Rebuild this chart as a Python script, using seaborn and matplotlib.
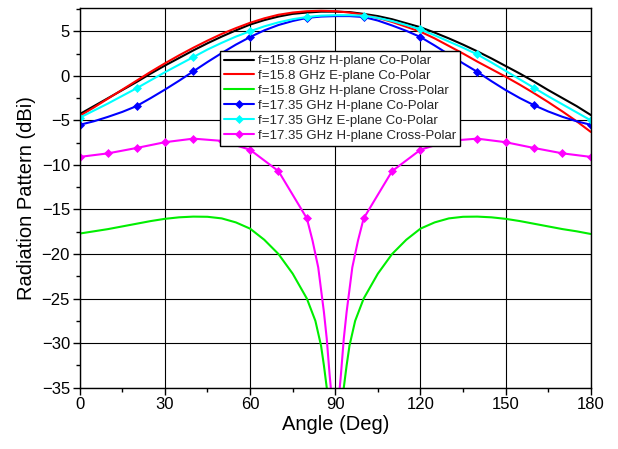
import numpy as np
import pandas as pd
import matplotlib
matplotlib.use("Agg")
import matplotlib.pyplot as plt
import seaborn as sns
from matplotlib.ticker import MultipleLocator

# ---------------- data ----------------
angles5 = list(range(0, 181, 5))

h158_co = [-4.3, -3.4, -2.5, -1.6, -0.7, 0.25, 1.15, 2.0, 2.85, 3.65, 4.4, 5.1, 5.75, 6.25,
           6.65, 6.95, 7.1, 7.2, 7.2, 7.15, 6.95, 6.7, 6.35, 5.9, 5.45, 4.85, 4.2, 3.5, 2.75,
           1.95, 1.1, 0.25, -0.65, -1.6, -2.5, -3.4, -4.4]
e158_co = [-4.5, -3.55, -2.55, -1.55, -0.55, 0.45, 1.4, 2.3, 3.15, 3.95, 4.7, 5.35, 5.95, 6.45,
           6.85, 7.1, 7.25, 7.3, 7.25, 7.1, 6.85, 6.5, 6.05, 5.5, 4.95, 4.2, 3.35, 2.5, 1.6,
           0.75, -0.1, -1.0, -1.95, -2.95, -4.0, -5.1, -6.3]
h1735_co = [-5.5, -5.1, -4.6, -4.05, -3.4, -2.5, -1.55, -0.55, 0.5, 1.55, 2.55, 3.5, 4.35, 5.1,
            5.7, 6.15, 6.5, 6.65, 6.7, 6.7, 6.6, 6.2, 5.65, 5.05, 4.35, 3.4, 2.4, 1.4, 0.45,
            -0.6, -1.6, -2.5, -3.3, -4.0, -4.6, -5.1, -5.5]
e1735_co = [-4.7, -3.9, -3.1, -2.25, -1.4, -0.5, 0.4, 1.25, 2.1, 2.95, 3.7, 4.4, 5.0, 5.55,
            6.0, 6.35, 6.6, 6.75, 6.8, 6.8, 6.75, 6.5, 6.15, 5.7, 5.2, 4.55, 3.85, 3.15, 2.4,
            1.5, 0.55, -0.4, -1.35, -2.3, -3.2, -4.1, -5.0]

angles_x158 = [0, 5, 10, 15, 20, 25, 30, 35, 40, 45, 50, 55, 60, 65, 70, 75, 80, 83, 85, 86,
               87, 88, 89, 90, 91, 92, 93, 94, 95, 97, 100, 105, 110, 115, 120, 125, 130, 135,
               140, 145, 150, 155, 160, 165, 170, 175, 180]
h158_x = [-17.7, -17.45, -17.2, -16.9, -16.6, -16.3, -16.05, -15.88, -15.8, -15.82, -16.0,
          -16.45, -17.15, -18.4, -20.0, -22.2, -25.0, -27.5, -30.3, -32.5, -35.0, -38.5, -45.0,
          -60.0, -45.0, -38.5, -35.0, -32.5, -30.3, -27.5, -25.0, -22.2, -20.0, -18.4, -17.15,
          -16.45, -16.0, -15.82, -15.8, -15.88, -16.05, -16.3, -16.6, -16.9, -17.2, -17.45,
          -17.75]

angles_x1735 = [0, 10, 20, 30, 40, 50, 60, 70, 80, 82, 84, 86, 87, 88, 89, 90, 91, 92, 93, 94,
                96, 98, 100, 110, 120, 130, 140, 150, 160, 170, 180]
h1735_x = [-9.1, -8.7, -8.1, -7.45, -7.05, -7.3, -8.3, -10.7, -16.0, -18.5, -21.5, -26.5,
           -29.5, -33.5, -37.0, -60.0, -37.0, -33.5, -29.5, -26.5, -21.5, -18.5, -16.0, -10.7,
           -8.3, -7.3, -7.05, -7.45, -8.1, -8.7, -9.1]

labels = ["f=15.8 GHz H-plane Co-Polar", "f=15.8 GHz E-plane Co-Polar",
          "f=15.8 GHz H-plane Cross-Polar", "f=17.35 GHz H-plane Co-Polar",
          "f=17.35 GHz E-plane Co-Polar", "f=17.35 GHz H-plane Cross-Polar"]
x_ticks = [0, 30, 60, 90, 120, 150, 180]
y_ticks = [-35, -30, -25, -20, -15, -10, -5, 0, 5]

# ---------------- plot ----------------
sns.set_theme(style="white")
plt.rcParams['font.family'] = ['Liberation Sans', 'DejaVu Sans']

fig = plt.figure(figsize=(6.18, 4.49), dpi=100)
ax = fig.add_axes([0.129, 0.1365, 0.827, 0.8455])

mag_marks = [i for i, a in enumerate(angles_x1735) if a % 10 == 0 and a != 90]

series = [
    (angles5, h158_co, "#000000", None, None),
    (angles5, e158_co, "#ff0000", None, None),
    (angles_x158, h158_x, "#00ee00", None, None),
    (angles5, h1735_co, "#0000ff", "D", 4),
    (angles5, e1735_co, "#00ffff", "D", 4),
    (angles_x1735, h1735_x, "#ff00ff", "D", mag_marks),
]
for (xs, ys, col, mk, me), lab in zip(series, labels):
    df = pd.DataFrame({"angle": xs, "val": ys})
    kw = dict(color=col, linewidth=1.5, label=lab, ax=ax, sort=False, estimator=None)
    if mk:
        kw.update(marker=mk, markersize=4.5, markevery=me, markeredgewidth=0.5,
                  markeredgecolor=col, markerfacecolor=col)
    sns.lineplot(data=df, x="angle", y="val", **kw)

ax.set_xlim(0, 180)
ax.set_ylim(-35, 7.6)
ax.set_xticks(x_ticks)
ax.set_yticks(y_ticks)
ax.xaxis.set_minor_locator(MultipleLocator(15))
ax.yaxis.set_minor_locator(MultipleLocator(2.5))
ax.grid(True, which="major", color="black", linewidth=0.8)
ax.set_axisbelow(True)
for s in ax.spines.values():
    s.set_color("black")
    s.set_linewidth(1.0)
ax.tick_params(axis="both", which="major", direction="out", length=5, width=1,
               color="black", labelsize=12, labelcolor="black", bottom=True, left=True, pad=2)
ax.tick_params(axis="both", which="minor", direction="out", length=3, width=1,
               color="black", bottom=True, left=True)
ax.set_xlabel("Angle (Deg)", fontsize=14.5, color="black", labelpad=2)
ax.set_ylabel("Radiation Pattern (dBi)", fontsize=14.5, color="black", labelpad=4)

leg = ax.legend(loc="upper left", bbox_to_anchor=(0.274, 0.887), fontsize=9.5,
                frameon=True, fancybox=False, framealpha=1, edgecolor="black",
                borderpad=0.3, labelspacing=0.2, handlelength=2.3, handletextpad=0.3,
                borderaxespad=0)
leg.get_frame().set_linewidth(1.0)

fig.savefig("out.png", dpi=100)
